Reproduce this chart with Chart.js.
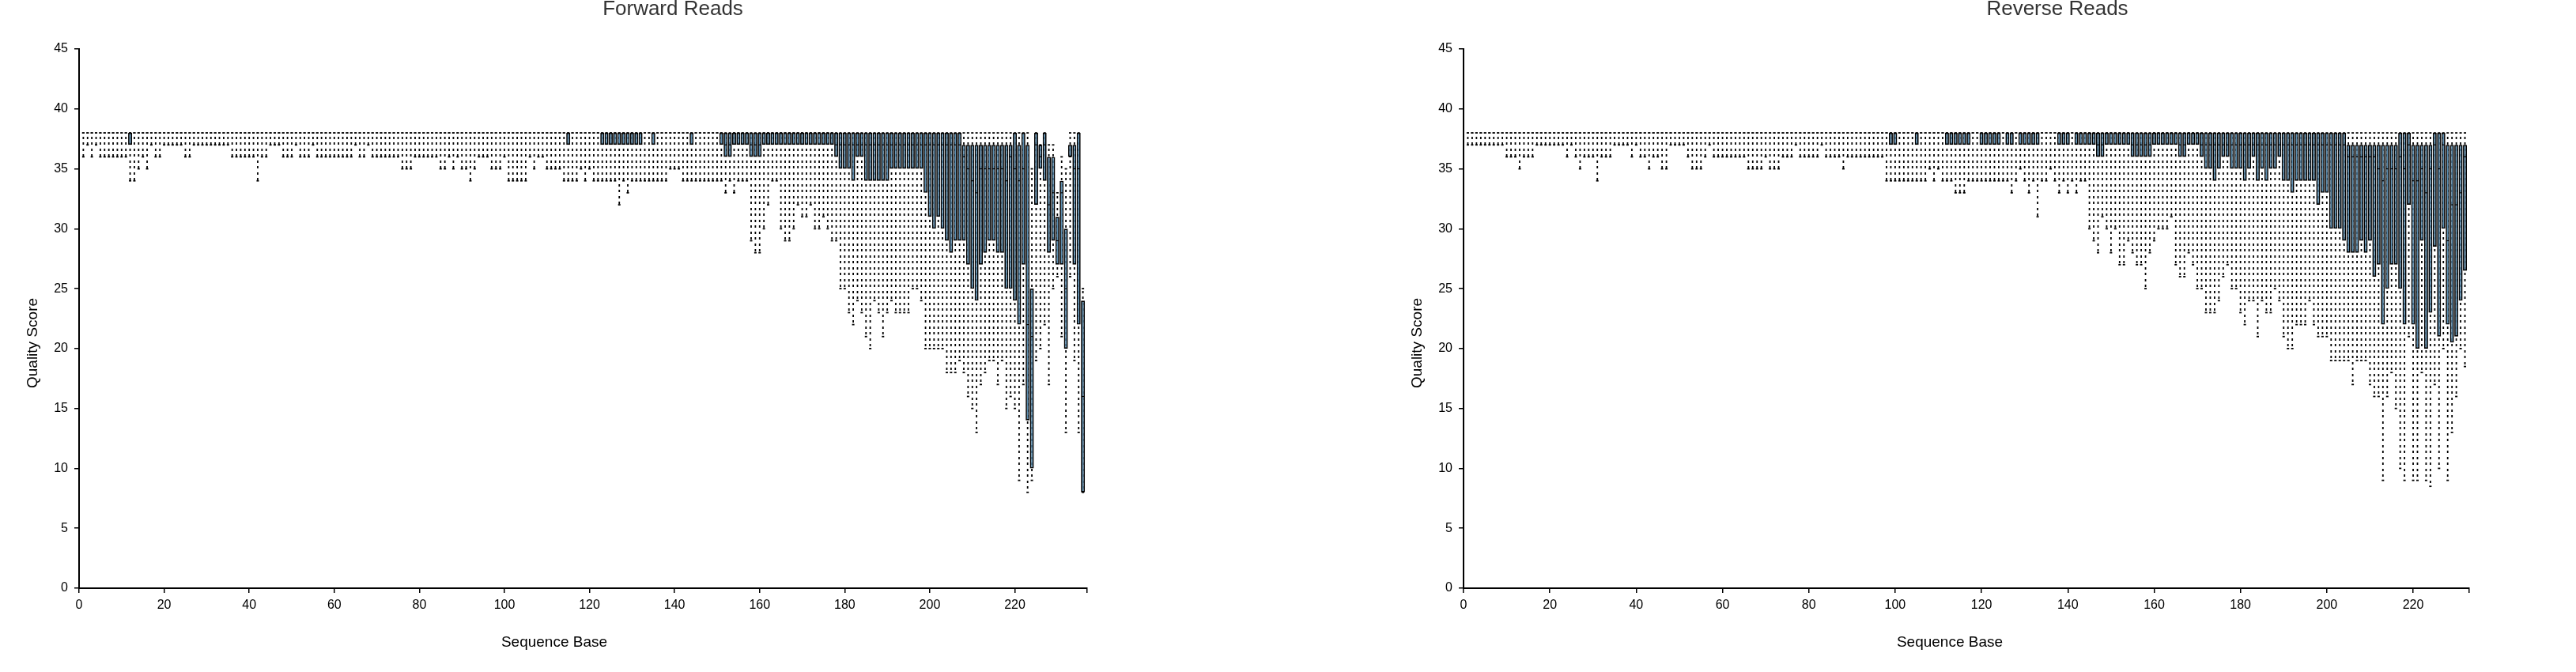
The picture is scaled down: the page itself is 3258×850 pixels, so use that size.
<!DOCTYPE html>
<html>
<head>
<meta charset="utf-8">
<title>Demultiplexed sequence quality</title>
<script src="https://cdn.jsdelivr.net/npm/chart.js@4.4.1/dist/chart.umd.min.js"></script>
<style>
  html, body { margin: 0; padding: 0; background: #fff; overflow: hidden; }
  #wrap { position: relative; width: 3258px; height: 850px; }
  .panel { position: absolute; top: 0; width: 1629px; height: 850px; }
</style>
</head>
<body>
<div id="wrap">
  <div class="panel" style="left:0"><canvas id="fwdChart" width="1629" height="850"></canvas></div>
  <div class="panel" style="left:1629px"><canvas id="revChart" width="1629" height="850"></canvas></div>
</div>
<script>
// quality score summaries per sequence base (index 0 = base 1)
// forward reads: 2nd pct, 25th pct, median, 75th pct, 98th pct
var fLow = [
  36,37,36,37,36,36,36,36,36,36, 36,34,34,35,36,35,37,36,36,37,
  37,37,37,37,36,36,37,37,37,37, 37,37,37,37,37,36,36,36,36,36,
  36,34,36,36,37,37,37,36,36,36, 37,36,36,36,37,36,36,36,36,36,
  36,36,36,36,37,36,36,37,36,36, 36,36,36,36,36,35,35,35,36,36,
  36,36,36,36,35,35,36,35,36,35, 35,34,35,36,36,36,35,35,35,36,
  34,34,34,34,34,36,35,36,36,35, 35,35,35,34,34,34,34,35,34,35,
  34,34,34,34,34,34,32,34,33,34, 34,34,34,34,34,34,34,34,35,35,
  35,34,34,34,34,34,34,34,34,34, 34,33,34,33,34,34,34,29,28,28,
  30,32,34,34,30,29,29,30,32,31, 31,32,30,30,31,30,29,29,25,25,
  23,22,24,23,21,20,24,23,21,23, 24,23,23,23,23,25,25,24,20,20,
  20,20,20,18,18,18,19,18,16,15, 13,17,18,19,19,17,19,15,16,15,
  9,17,8,9,19,20,22,17,25,26, 21,13,26,19,13,8
];
var fQ1 = [
  38,38,38,38,38,38,38,38,38,38, 38,37,38,38,38,38,38,38,38,38,
  38,38,38,38,38,38,38,38,38,38, 38,38,38,38,38,38,38,38,38,38,
  38,38,38,38,38,38,38,38,38,38, 38,38,38,38,38,38,38,38,38,38,
  38,38,38,38,38,38,38,38,38,38, 38,38,38,38,38,38,38,38,38,38,
  38,38,38,38,38,38,38,38,38,38, 38,38,38,38,38,38,38,38,38,38,
  38,38,38,38,38,38,38,38,38,38, 38,38,38,38,37,38,38,38,38,38,
  38,38,37,37,37,37,37,37,37,37, 37,37,38,38,37,38,38,38,38,38,
  38,38,38,37,38,38,38,38,38,38, 37,36,36,37,37,37,37,36,36,36,
  37,37,37,37,37,37,37,37,37,37, 37,37,37,37,37,37,37,36,35,35,
  35,34,36,36,34,34,34,34,34,34, 35,35,35,35,35,35,35,35,33,31,
  30,31,30,29,28,29,29,29,27,25, 24,27,28,29,29,28,28,25,25,24,
  22,27,14,10,32,35,34,28,29,27, 27,20,36,27,22,8
];
var fMed = [
  38,38,38,38,38,38,38,38,38,38, 38,38,38,38,38,38,38,38,38,38,
  38,38,38,38,38,38,38,38,38,38, 38,38,38,38,38,38,38,38,38,38,
  38,38,38,38,38,38,38,38,38,38, 38,38,38,38,38,38,38,38,38,38,
  38,38,38,38,38,38,38,38,38,38, 38,38,38,38,38,38,38,38,38,38,
  38,38,38,38,38,38,38,38,38,38, 38,38,38,38,38,38,38,38,38,38,
  38,38,38,38,38,38,38,38,38,38, 38,38,38,38,38,38,38,38,38,38,
  38,38,38,38,38,38,38,38,38,38, 38,38,38,38,38,38,38,38,38,38,
  38,38,38,38,38,38,38,38,38,38, 38,37,37,38,38,38,38,37,37,37,
  38,38,38,38,38,38,38,38,38,38, 38,38,38,38,38,38,38,37,37,37,
  37,37,37,37,37,37,37,37,37,37, 37,37,37,37,37,37,37,37,37,37,
  37,37,37,37,37,37,37,36,35,34, 33,35,35,35,35,35,35,34,36,35,
  34,35,22,21,37,36,37,32,33,29, 33,25,36,35,35,16
];
var fQ3 = [
  38,38,38,38,38,38,38,38,38,38, 38,38,38,38,38,38,38,38,38,38,
  38,38,38,38,38,38,38,38,38,38, 38,38,38,38,38,38,38,38,38,38,
  38,38,38,38,38,38,38,38,38,38, 38,38,38,38,38,38,38,38,38,38,
  38,38,38,38,38,38,38,38,38,38, 38,38,38,38,38,38,38,38,38,38,
  38,38,38,38,38,38,38,38,38,38, 38,38,38,38,38,38,38,38,38,38,
  38,38,38,38,38,38,38,38,38,38, 38,38,38,38,38,38,38,38,38,38,
  38,38,38,38,38,38,38,38,38,38, 38,38,38,38,38,38,38,38,38,38,
  38,38,38,38,38,38,38,38,38,38, 38,38,38,38,38,38,38,38,38,38,
  38,38,38,38,38,38,38,38,38,38, 38,38,38,38,38,38,38,38,38,38,
  38,38,38,38,38,38,38,38,38,38, 38,38,38,38,38,38,38,38,38,38,
  38,38,38,38,38,38,38,37,37,37, 37,37,37,37,37,37,37,37,37,38,
  37,38,37,25,38,37,38,36,36,31, 34,30,37,37,38,24
];
var fHigh = [
  38,38,38,38,38,38,38,38,38,38, 38,38,38,38,38,38,38,38,38,38,
  38,38,38,38,38,38,38,38,38,38, 38,38,38,38,38,38,38,38,38,38,
  38,38,38,38,38,38,38,38,38,38, 38,38,38,38,38,38,38,38,38,38,
  38,38,38,38,38,38,38,38,38,38, 38,38,38,38,38,38,38,38,38,38,
  38,38,38,38,38,38,38,38,38,38, 38,38,38,38,38,38,38,38,38,38,
  38,38,38,38,38,38,38,38,38,38, 38,38,38,38,38,38,38,38,38,38,
  38,38,38,38,38,38,38,38,38,38, 38,38,38,38,38,38,38,38,38,38,
  38,38,38,38,38,38,38,38,38,38, 38,38,38,38,38,38,38,38,38,38,
  38,38,38,38,38,38,38,38,38,38, 38,38,38,38,38,38,38,38,38,38,
  38,38,38,38,38,38,38,38,38,38, 38,38,38,38,38,38,38,38,38,38,
  38,38,38,38,38,38,38,38,38,38, 38,38,38,38,38,38,38,38,38,38,
  38,38,38,35,38,37,38,37,37,33, 36,35,38,38,38,25
];

// reverse reads
var rLow = [
  37,37,37,37,37,37,37,37,37,36, 36,36,35,36,36,36,37,37,37,37,
  37,37,37,36,37,36,35,36,36,36, 34,36,36,36,37,37,37,37,36,37,
  36,36,35,36,36,35,35,37,37,37, 37,36,35,35,35,36,37,36,36,36,
  36,36,36,36,36,35,35,35,35,36, 35,35,35,36,36,36,37,36,36,36,
  36,36,37,36,36,36,36,35,36,36, 36,36,36,36,36,36,36,34,34,34,
  34,34,34,34,34,34,34,35,34,35, 34,34,34,33,33,33,34,34,34,34,
  34,34,34,34,34,34,33,34,35,34, 33,34,31,34,34,35,34,33,34,33,
  34,33,34,34,30,29,28,31,30,28, 30,27,27,29,28,27,27,25,28,29,
  30,30,30,31,27,26,26,28,27,25, 25,23,23,23,24,26,27,25,25,23,
  22,24,24,21,24,23,23,25,24,21, 20,20,22,22,22,24,22,21,21,21,
  19,19,19,19,19,17,19,19,19,17, 16,16,9,16,18,15,10,9,21,9,
  9,18,9,8.5,17,10,20,9,13,16, 20,18.5
];
var rQ1 = [
  38,38,38,38,38,38,38,38,38,38, 38,38,38,38,38,38,38,38,38,38,
  38,38,38,38,38,38,38,38,38,38, 38,38,38,38,38,38,38,38,38,38,
  38,38,38,38,38,38,38,38,38,38, 38,38,38,38,38,38,38,38,38,38,
  38,38,38,38,38,38,38,38,38,38, 38,38,38,38,38,38,38,38,38,38,
  38,38,38,38,38,38,38,38,38,38, 38,38,38,38,38,38,38,38,37,37,
  38,38,38,38,37,38,38,38,38,38, 38,37,37,37,37,37,37,38,38,37,
  37,37,37,37,38,37,37,38,37,37, 37,37,37,38,38,38,38,37,37,37,
  38,37,37,37,37,37,36,36,37,37, 37,37,37,37,36,36,36,36,36,37,
  37,37,37,37,37,36,36,37,37,37, 36,35,35,34,35,36,36,35,35,35,
  34,35,36,34,35,34,35,35,36,34, 34,33,34,34,34,34,34,32,33,33,
  30,30,30,29,28,28,28,29,28,29, 26,27,22,25,27,27,25,22,32,22,
  20,29,20,23,28.5,21,30,22,20.5,21, 24,26.5
];
var rMed = [
  38,38,38,38,38,38,38,38,38,38, 38,38,38,38,38,38,38,38,38,38,
  38,38,38,38,38,38,38,38,38,38, 38,38,38,38,38,38,38,38,38,38,
  38,38,38,38,38,38,38,38,38,38, 38,38,38,38,38,38,38,38,38,38,
  38,38,38,38,38,38,38,38,38,38, 38,38,38,38,38,38,38,38,38,38,
  38,38,38,38,38,38,38,38,38,38, 38,38,38,38,38,38,38,38,38,38,
  38,38,38,38,38,38,38,38,38,38, 38,38,38,38,38,38,38,38,38,38,
  38,38,38,38,38,38,38,38,38,38, 38,38,38,38,38,38,38,38,38,38,
  38,38,38,38,38,38,37,37,38,38, 38,38,38,38,37,37,37,37,37,38,
  38,38,38,38,38,37,37,38,38,38, 37,37,37,37,37,37,37,37,37,37,
  37,37,37,37,37,37,37,37,37,37, 37,37,37,37,37,37,37,37,37,37,
  37,37,37,37,36,36,36,36,36,36, 36,35,34,35,35,35,36,35,37,34,
  34,35,33,35,37,35,37,29,32,32, 33,36
];
var rQ3 = [
  38,38,38,38,38,38,38,38,38,38, 38,38,38,38,38,38,38,38,38,38,
  38,38,38,38,38,38,38,38,38,38, 38,38,38,38,38,38,38,38,38,38,
  38,38,38,38,38,38,38,38,38,38, 38,38,38,38,38,38,38,38,38,38,
  38,38,38,38,38,38,38,38,38,38, 38,38,38,38,38,38,38,38,38,38,
  38,38,38,38,38,38,38,38,38,38, 38,38,38,38,38,38,38,38,38,38,
  38,38,38,38,38,38,38,38,38,38, 38,38,38,38,38,38,38,38,38,38,
  38,38,38,38,38,38,38,38,38,38, 38,38,38,38,38,38,38,38,38,38,
  38,38,38,38,38,38,38,38,38,38, 38,38,38,38,38,38,38,38,38,38,
  38,38,38,38,38,38,38,38,38,38, 38,38,38,38,38,38,38,38,38,38,
  38,38,38,38,38,38,38,38,38,38, 38,38,38,38,38,38,38,38,38,38,
  38,38,38,38,37,37,37,37,37,37, 37,37,37,37,37,37,38,38,38,37,
  37,37,37,37,38,38,38,37,37,37, 37,37
];
var rHigh = [
  38,38,38,38,38,38,38,38,38,38, 38,38,38,38,38,38,38,38,38,38,
  38,38,38,38,38,38,38,38,38,38, 38,38,38,38,38,38,38,38,38,38,
  38,38,38,38,38,38,38,38,38,38, 38,38,38,38,38,38,38,38,38,38,
  38,38,38,38,38,38,38,38,38,38, 38,38,38,38,38,38,38,38,38,38,
  38,38,38,38,38,38,38,38,38,38, 38,38,38,38,38,38,38,38,38,38,
  38,38,38,38,38,38,38,38,38,38, 38,38,38,38,38,38,38,38,38,38,
  38,38,38,38,38,38,38,38,38,38, 38,38,38,38,38,38,38,38,38,38,
  38,38,38,38,38,38,38,38,38,38, 38,38,38,38,38,38,38,38,38,38,
  38,38,38,38,38,38,38,38,38,38, 38,38,38,38,38,38,38,38,38,38,
  38,38,38,38,38,38,38,38,38,38, 38,38,38,38,38,38,38,38,38,38,
  38,38,38,38,38,38,38,38,38,38, 38,38,38,38,38,38,38,38,38,38,
  38,38,38,38,38,38,38,38,38,38, 38,38
];

var panelTitles = ['Forward Reads', 'Reverse Reads'];
var xTitle = 'Sequence Base';
var yTitle = 'Quality Score';

var FONT = '"Liberation Sans", Arial, Helvetica, sans-serif';
Chart.defaults.font.family = FONT;

// dashed fill for the whiskers, anchored to the canvas so dashes line up
function dashPattern(ctx) {
  var c = document.createElement('canvas');
  c.width = 1;
  c.height = 15;
  var p = c.getContext('2d');
  p.fillStyle = '#000';
  p.fillRect(0, 0, 1, 3);
  p.fillRect(0, 8, 1, 3);
  return ctx.createPattern(c, 'repeat');
}

// panel title and axis titles, placed relative to the plot area
var labelPlugin = {
  id: 'panelLabels',
  afterDraw: function (chart, args, opts) {
    var ctx = chart.ctx;
    var area = chart.chartArea;
    ctx.save();
    ctx.textAlign = 'center';
    ctx.textBaseline = 'middle';

    ctx.font = '26px ' + FONT;
    ctx.fillStyle = '#333';
    ctx.fillText(opts.title, area.left + 751, 12);

    ctx.font = '19px ' + FONT;
    ctx.fillStyle = '#000';
    ctx.fillText(xTitle, area.left + opts.xTitleOffset, 813);

    ctx.translate(area.left - 58, area.top + 372);
    ctx.rotate(-Math.PI / 2);
    ctx.fillText(yTitle, 0, 0);
    ctx.restore();
  }
};

function points(vals) {
  return vals.map(function (v, i) { return {x: i + 1, y: v}; });
}

function renderQuality(id, title, low, q1, med, q3, high, xMax, padLeft, padRight, xTitleOffset) {
  var ctx = document.getElementById(id).getContext('2d');
  var whiskers = low.map(function (v, i) { return {x: i + 1, y: [v, high[i]]}; });
  var boxes = q1.map(function (v, i) {
    return {x: i + 1, y: v === q3[i] ? null : [v, q3[i]]};
  });
  var tickFont = {family: FONT, size: 16};

  return new Chart(ctx, {
    type: 'bar',
    data: {
      datasets: [
        {
          type: 'bar', data: whiskers, backgroundColor: dashPattern(ctx),
          barThickness: 1.8, inflateAmount: 0, grouped: false, order: 4
        },
        {
          type: 'bar', data: boxes, backgroundColor: '#5b8db0',
          borderColor: '#000', borderWidth: 1.7, borderSkipped: false,
          barThickness: 5, inflateAmount: 0, grouped: false, order: 3
        },
        {
          type: 'line', data: points(med), showLine: false, pointStyle: 'line',
          pointRadius: 1.6, borderColor: '#000', pointBorderColor: '#000',
          pointBorderWidth: 1.2, order: 2
        },
        {
          type: 'line', data: points(low), showLine: false, pointStyle: 'line',
          pointRadius: 1.5, borderColor: '#000', pointBorderColor: '#000',
          pointBorderWidth: 1.8, order: 1
        },
        {
          type: 'line', data: points(high), showLine: false, pointStyle: 'line',
          pointRadius: 1.5, borderColor: '#000', pointBorderColor: '#000',
          pointBorderWidth: 1.8, order: 0
        }
      ]
    },
    options: {
      responsive: false,
      animation: false,
      events: [],
      layout: {padding: {left: padLeft, right: padRight, top: 62, bottom: 0}},
      plugins: {
        legend: {display: false},
        tooltip: {enabled: false},
        panelLabels: {title: title, xTitleOffset: xTitleOffset}
      },
      scales: {
        x: {
          type: 'linear', min: 0, max: xMax, offset: false,
          grid: {drawOnChartArea: false, drawTicks: true, tickLength: 6, color: '#000', lineWidth: 1.5, offset: false},
          border: {display: true, color: '#000', width: 2},
          ticks: {
            stepSize: 20, autoSkip: false, maxRotation: 0, color: '#000', font: tickFont, padding: 6,
            callback: function (v) { return v % 20 === 0 ? v : ''; }
          },
          afterFit: function (s) { s.height = 106; }
        },
        y: {
          type: 'linear', min: 0, max: 45,
          grid: {drawOnChartArea: false, drawTicks: true, tickLength: 6, color: '#000', lineWidth: 1.5},
          border: {display: true, color: '#000', width: 2},
          ticks: {stepSize: 5, color: '#000', font: tickFont, padding: 8},
          afterFit: function (s) { s.width = 100; }
        }
      }
    },
    plugins: [labelPlugin]
  });
}

renderQuality('fwdChart', panelTitles[0], fLow, fQ1, fMed, fQ3, fHigh, 237, 0, 254, 601);
renderQuality('revChart', panelTitles[1], rLow, rQ1, rMed, rQ3, rHigh, 233, 122, 135, 615);
</script>
</body>
</html>
